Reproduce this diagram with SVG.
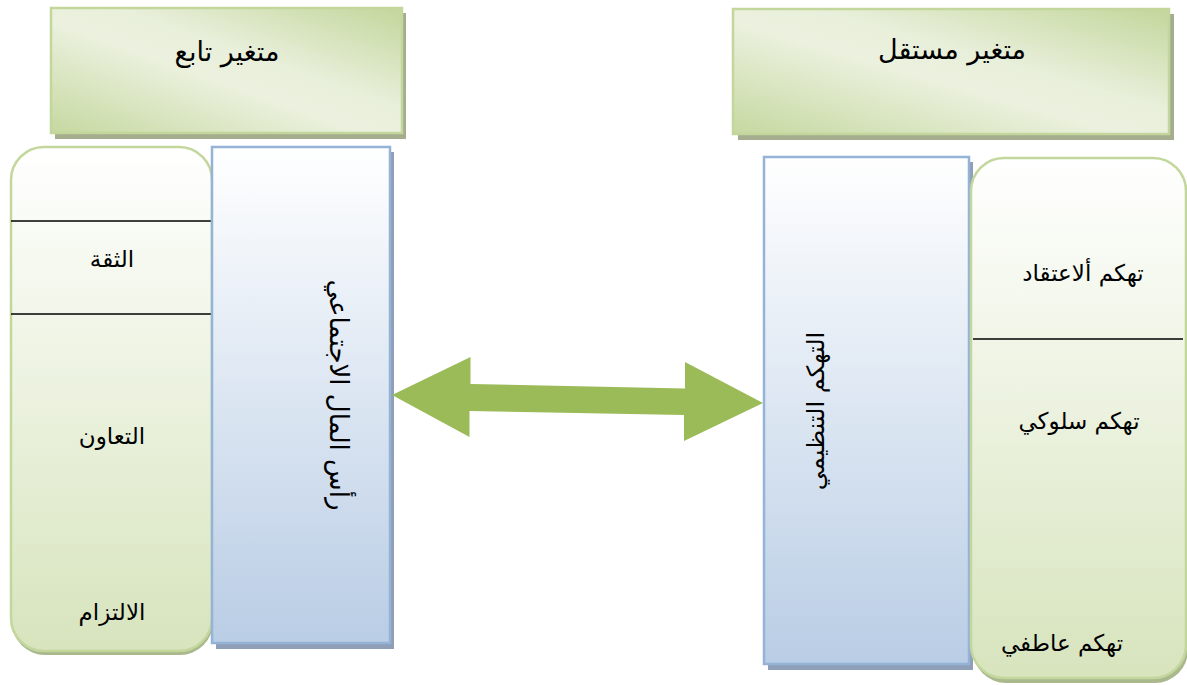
<svg xmlns="http://www.w3.org/2000/svg" width="1187" height="685" viewBox="0 0 1187 685">
<defs>
<linearGradient id="hdr" x1="0" y1="1" x2="1" y2="0">
<stop offset="0" stop-color="#c6d8a0"/>
<stop offset="0.45" stop-color="#ebf1de"/>
<stop offset="0.6" stop-color="#e8efda"/>
<stop offset="1" stop-color="#c3d69b"/>
</linearGradient>
<linearGradient id="grn" x1="0" y1="0" x2="0" y2="1">
<stop offset="0" stop-color="#ffffff"/>
<stop offset="1" stop-color="#d7e4bd"/>
</linearGradient>
<linearGradient id="blu" x1="0" y1="0" x2="0" y2="1">
<stop offset="0" stop-color="#ffffff"/>
<stop offset="1" stop-color="#b9cde5"/>
</linearGradient>
</defs>
<style>
.hdr{fill:url(#hdr);stroke:#c3d69b;stroke-width:2.5}
.hsh{fill:#a4ad8e}
.grn{fill:url(#grn);stroke:#c3d69b;stroke-width:2.5}
.gsh{fill:#aab88e}
.blu{fill:url(#blu);stroke:#95b3d7;stroke-width:2.5}
.bsh{fill:#8e9fb7}
.sep{stroke:#000;stroke-width:1.5}
text{font-family:"DejaVu Sans","Noto Sans",sans-serif;font-size:23px;fill:#000;text-anchor:middle;dominant-baseline:central}
.big{font-size:27px}
</style>
<g id="header-dependent">
<rect class="hsh" x="55" y="13" width="351" height="126"/>
<rect class="hdr" x="51" y="8" width="351" height="125"/>
<text class="big" x="227" y="51">متغير تابع</text>
</g>
<g id="header-independent">
<rect class="hsh" x="738" y="14" width="436" height="126"/>
<rect class="hdr" x="733" y="9" width="436" height="125"/>
<text class="big" x="952" y="49">متغير مستقل</text>
</g>
<g id="dependent-dimensions">
<rect class="gsh" x="12" y="152" width="201" height="503" rx="33" ry="33"/>
<rect class="grn" x="11" y="147" width="201" height="504" rx="33" ry="33"/>
<line class="sep" x1="11" y1="221" x2="212" y2="221"/>
<line class="sep" x1="11" y1="314" x2="212" y2="314"/>
<text x="112" y="259">الثقة</text>
<text x="112" y="436">التعاون</text>
<text x="112" y="612">الالتزام</text>
</g>
<g id="social-capital">
<rect class="bsh" x="216" y="152" width="178" height="497"/>
<rect class="blu" x="212" y="147" width="178" height="496"/>
<text style="font-size:26px" transform="translate(339 395) rotate(90)">رأس المال الاجتماعي</text>
</g>
<g id="cynicism">
<rect class="bsh" x="768" y="162" width="205" height="508"/>
<rect class="blu" x="764" y="157" width="205" height="507"/>
<text style="font-size:24px" transform="translate(816 411) rotate(-90)">التهكم التنظيمي</text>
</g>
<g id="independent-dimensions">
<rect class="gsh" x="973" y="163" width="215" height="520" rx="33" ry="33"/>
<rect class="grn" x="971" y="158" width="215" height="520" rx="33" ry="33"/>
<line class="sep" x1="973" y1="339" x2="1183" y2="339"/>
<text x="1083" y="273">تهكم ألاعتقاد</text>
<text x="1079" y="421">تهكم سلوكي</text>
<text x="1062" y="643">تهكم عاطفي</text>
</g>
<g id="connectors">
<polygon fill="#9bbb59" points="392,395 470.5,357 470.5,384 685,388.5 685,362 763,403 684,441 684,415 469.5,411 469.5,437"/>
</g>
</svg>
